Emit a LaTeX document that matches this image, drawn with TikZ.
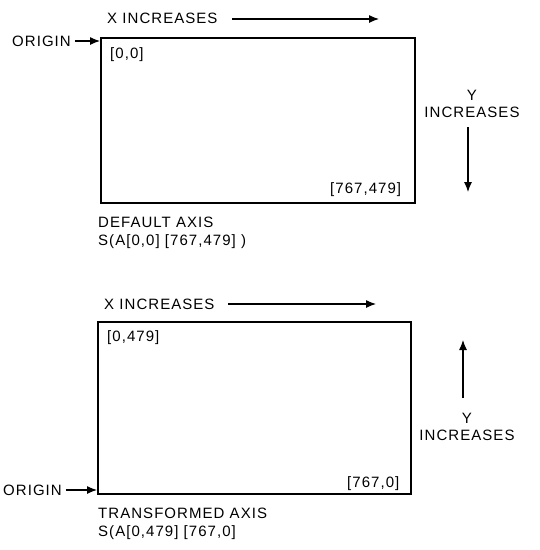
\documentclass[tikz,border=0pt]{standalone}
\usepackage{fontspec}
\setmainfont{Liberation Sans}[LetterSpace=7]
\usetikzlibrary{positioning,arrows.meta}
\tikzset{
  screen/.style={draw, line width=2.2pt, inner sep=0pt, anchor=north west},
  label/.style={inner sep=0pt, anchor=base west, font=\fontsize{15}{17}\selectfont},
  ylabel/.style={inner sep=0pt, anchor=north, align=center, font=\fontsize{15}{17}\selectfont},
  dirarrow/.style={-{Latex[length=10pt, width=8pt]}, line width=1.1pt}
}
\begin{document}
\begin{tikzpicture}[x=1pt, y=-1pt]
  \useasboundingbox (0,0) rectangle (540,550);
  % default axis
  \node[screen, minimum width=314pt, minimum height=165pt] (scr1) at (100,37) {};
  \node[label] (xinc1) at (107,23) {X INCREASES};
  \coordinate (xbeg1) at (232,19);
  \coordinate (xend1) at (379,19);
  \draw[dirarrow] (xbeg1) -- (xend1);
  \node[label] (orig1) at (12,46) {ORIGIN};
  \draw[dirarrow] ([xshift=4pt]orig1.east |- 0,41) -- (scr1.west |- 0,41);
  \node[label] (tl1) at (110,58) {[0,0]};
  \node[label] (br1) at (330,193) {[767,479]};
  \node[ylabel] (yinc1) at (472,90) {Y\\INCREASES};
  \coordinate (ybeg1) at (468,127);
  \coordinate (yend1) at (468,192);
  \draw[dirarrow] (ybeg1) -- (yend1);
  \node[label] (cap1) at (98,227) {DEFAULT AXIS};
  \node[label] (cmd1) at (98,245) {S(A[0,0] [767,479] )};
  % transformed axis
  \node[screen, minimum width=313pt, minimum height=172pt] (scr2) at (97,321) {};
  \node[label] (xinc2) at (104,309) {X INCREASES};
  \coordinate (xbeg2) at (228,304);
  \coordinate (xend2) at (376,304);
  \draw[dirarrow] (xbeg2) -- (xend2);
  \node[label] (tl2) at (107,341) {[0,479]};
  \node[label] (br2) at (347,487) {[767,0]};
  \coordinate (ybeg2) at (463,398);
  \coordinate (yend2) at (463,340);
  \draw[dirarrow] (ybeg2) -- (yend2);
  \node[ylabel] (yinc2) at (467,413) {Y\\INCREASES};
  \node[label] (orig2) at (3,495) {ORIGIN};
  \draw[dirarrow] ([xshift=4pt]orig2.east |- 0,490) -- (scr2.west |- 0,490);
  \node[label] (cap2) at (98,518) {TRANSFORMED AXIS};
  \node[label] (cmd2) at (98,536) {S(A[0,479] [767,0]};
\end{tikzpicture}
\end{document}
